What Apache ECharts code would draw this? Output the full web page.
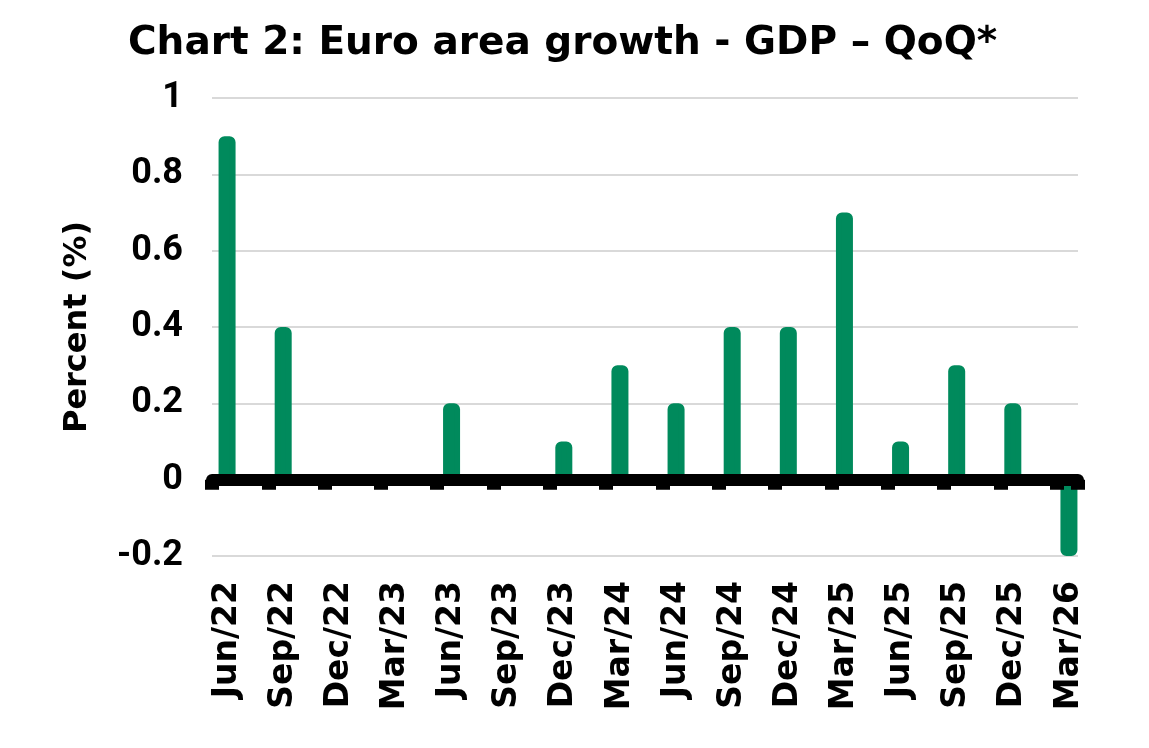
<!DOCTYPE html>
<html lang="en">
<head>
  <meta charset="UTF-8">
  <title>Euro area growth</title>
  <style>
    html, body { margin: 0; padding: 0; background: #fff; }
  </style>
</head>
<body>
  <div id="main" style="width: 1149px;height:748px;"></div>

  <script src="https://cdn.jsdelivr.net/npm/echarts@6/dist/echarts.min.js"></script>
  <script>
    const myChart = echarts.init(document.getElementById('main'));

    const quarters = ['Jun/22', 'Sep/22', 'Dec/22', 'Mar/23', 'Jun/23', 'Sep/23', 'Dec/23', 'Mar/24',
      'Jun/24', 'Sep/24', 'Dec/24', 'Mar/25', 'Jun/25', 'Sep/25', 'Dec/25', 'Mar/26'];
    const gdpQoQ = [0.9, 0.4, 0, 0, 0.2, 0, 0.1, 0.3, 0.2, 0.4, 0.4, 0.7, 0.1, 0.3, 0.2, -0.2];
    const yMin = -0.2, yMax = 1, yStep = 0.2;

    const wide = 'DejaVu Sans';
    const green = '#008a5c';

    const options = {
      title: {
        text: 'Chart 2: Euro area growth - GDP – QoQ*',
        left: 123,
        top: 19,
        textStyle: { fontFamily: wide, fontWeight: 'bold', fontSize: 39, color: '#000' }
      },
      grid: [
        // gridlines, y labels, zero axis
        { left: 212, right: 71, top: 98, bottom: 192 },
        // bars and category labels
        { left: 199, right: 52, top: 98, bottom: 192 }
      ],
      xAxis: [
        {
          gridIndex: 0,
          type: 'value',
          z: 10,
          min: 0,
          max: 15.38,
          interval: 1,
          axisLine: { show: true, onZero: true, lineStyle: { color: '#000', width: 12 } },
          axisTick: { show: true, length: 10, lineStyle: { color: '#000', width: 14 } },
          axisLabel: { show: false },
          splitLine: { show: false }
        },
        {
          gridIndex: 1,
          type: 'category',
          data: quarters,
          axisLine: { show: false },
          axisTick: { show: false },
          axisLabel: {
            rotate: 90,
            margin: 25,
            interval: 0,
            fontFamily: wide,
            fontWeight: 'bold',
            fontSize: 33,
            color: '#000'
          }
        }
      ],
      yAxis: [
        {
          gridIndex: 0,
          type: 'value',
          min: yMin,
          max: yMax,
          interval: yStep,
          name: 'Percent (%)',
          nameLocation: 'middle',
          nameGap: 118,
          nameRotate: 90,
          nameTextStyle: { fontFamily: wide, fontWeight: 'bold', fontSize: 32, color: '#000' },
          axisLine: { show: false },
          axisTick: { show: false },
          axisLabel: {
            margin: 29,
            fontFamily: 'Roboto',
            fontWeight: 'bold',
            fontSize: 36,
            color: '#000',
            formatter: v => String(Math.round(v * 10) / 10)
          },
          splitLine: { lineStyle: { color: '#d9d9d9', width: 2 } }
        },
        {
          gridIndex: 1,
          type: 'value',
          min: yMin,
          max: yMax,
          interval: yStep,
          show: false,
          splitLine: { show: false }
        }
      ],
      series: [{
        name: 'GDP QoQ',
        type: 'bar',
        xAxisIndex: 1,
        yAxisIndex: 1,
        barWidth: 17,
        z: 1,
        itemStyle: {
          color: green,
          borderColor: green,
          borderWidth: 6,
          borderRadius: 3
        },
        data: gdpQoQ
      }]
    };

    myChart.setOption(options);
  </script>
</body>
</html>
